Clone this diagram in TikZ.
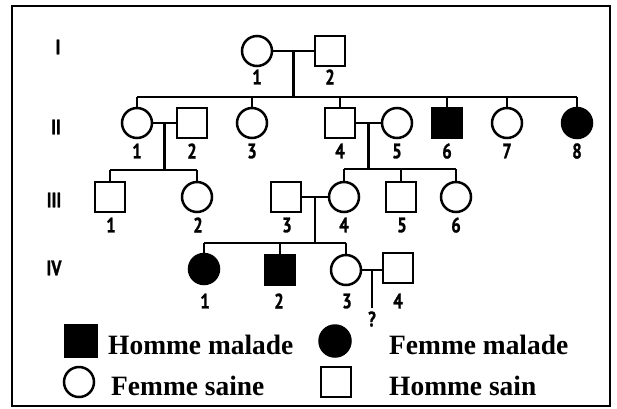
\documentclass[tikz,border=0pt]{standalone}
\usepackage{fontspec}
\usepackage{graphicx}
\usetikzlibrary{calc}
\setmainfont{Liberation Serif}
\newfontfamily\digfont{PT Sans}[BoldFeatures={FakeBold=1.3}]
\newcommand{\dg}[1]{{\digfont\bfseries\fontsize{21}{22}\selectfont\scalebox{0.8}[1]{#1}}}
\newcommand{\legtxt}[1]{{\bfseries\fontsize{28}{30}\selectfont\scalebox{0.98}[1]{#1}}}
\begin{document}
\begin{tikzpicture}[x=1pt,y=-1pt,
  fem/.style={circle,draw,line width=2.5pt,minimum size=30pt,inner sep=0pt},
  mal/.style={rectangle,draw,line width=2.5pt,minimum size=30pt,inner sep=0pt},
  aff/.style={fill=black},
  num/.style={inner sep=0pt,anchor=center},
  link/.style={line width=2.3pt},
  leg/.style={inner sep=0pt,anchor=base west}]
\useasboundingbox (0,0) rectangle (617,408);
\draw[line width=2.2pt] (12,6) rectangle (610,406);

% generation labels
\node[num] (gI) at (58,47) {\dg{I}};
\node[num] (gII) at (56,127) {\dg{II}};
\node[num] (gIII) at (54,200) {\dg{III}};
\node[num] (gIV) at (54,268) {\dg{IV}};

% generation I
\node[fem] (I1) at (257,51) {};
\node[mal] (I2) at (330,51) {};
\node[num] (nI1) at (257,77) {\dg{1}};
\node[num] (nI2) at (330,77) {\dg{2}};

% generation II
\node[fem] (II1) at (137,123) {};
\node[mal] (II2) at (192,123) {};
\node[fem] (II3) at (252,123) {};
\node[mal] (II4) at (340,123) {};
\node[fem] (II5) at (397,123) {};
\node[mal,aff] (II6) at (447,123) {};
\node[fem] (II7) at (507,123) {};
\node[fem,aff] (II8) at (577,123) {};
\foreach \n/\x in {1/137,2/192,3/252,4/340,5/397,6/447,7/507,8/577}
  \node[num] (nII\n) at (\x,151) {\dg{\n}};

% generation III
\node[mal] (III1) at (110,197) {};
\node[fem] (III2) at (197,197) {};
\node[mal] (III3) at (286,197) {};
\node[fem] (III4) at (344,197) {};
\node[mal] (III5) at (401,197) {};
\node[fem] (III6) at (456,197) {};
\foreach \n/\x in {1/111,2/198,3/287,4/344,5/402,6/456}
  \node[num] (nIII\n) at (\x,225) {\dg{\n}};

% generation IV
\node[fem,aff] (IV1) at (204,269) {};
\node[mal,aff] (IV2) at (280,270) {};
\node[fem] (IV3) at (346,270) {};
\node[mal] (IV4) at (398,268) {};
\foreach \n/\x in {1/205,2/279,3/347,4/398}
  \node[num] (nIV\n) at (\x,301) {\dg{\n}};
\node[num] (q) at (372,319) {\dg{?}};

% sibship levels
\coordinate (s1) at (0,97);
\coordinate (s2) at (0,170);
\coordinate (s3) at (0,169);
\coordinate (s4) at (0,243);

% marriages and descents
\draw[link] (I1.east) -- (I2.west);
\coordinate (m1) at ($(I1.east)!0.5!(I2.west)$);
\draw[link] (m1) -- (m1 |- s1);
\draw[link] (II1.north |- s1) -- (II8.north |- s1);
\foreach \c in {II1,II3,II4,II6,II7,II8}
  \draw[link] (\c.north) -- (\c.north |- s1);

\draw[link] (II1.east) -- (II2.west);
\coordinate (m2) at ($(II1.east)!0.5!(II2.west)$);
\draw[link] (m2) -- (m2 |- s2);
\draw[link] (III1.north |- s2) -- (III2.north |- s2);
\foreach \c in {III1,III2}
  \draw[link] (\c.north) -- (\c.north |- s2);

\draw[link] (II4.east) -- (II5.west);
\coordinate (m3) at ($(II4.east)!0.5!(II5.west)$);
\draw[link] (m3) -- (m3 |- s3);
\draw[link] (III4.north |- s3) -- (III6.north |- s3);
\foreach \c in {III4,III5,III6}
  \draw[link] (\c.north) -- (\c.north |- s3);

\draw[link] (III3.east) -- (III4.west);
\coordinate (m4) at ($(III3.east)!0.5!(III4.west)$);
\draw[link] (m4) -- (m4 |- s4);
\draw[link] (IV1.north |- s4) -- (IV3.north |- s4);
\foreach \c in {IV1,IV2,IV3}
  \draw[link] (\c.north) -- (\c.north |- s4);

\draw[link] (IV3.east) -- (IV4.west |- IV3.east);
\coordinate (m5) at ($(IV3.east)!0.5!(IV4.west |- IV3.east)$);
\coordinate (m5e) at (m5 |- 0,308);
\draw[link] (m5) -- (m5e);

% legend
\node[mal,aff,minimum size=31pt] (L1) at (81,341) {};
\node[leg] (T1) at (108,354) {\legtxt{Homme malade}};
\node[fem,aff,minimum size=31pt] (L2) at (335,341) {};
\node[leg] (T2) at (389,354) {\legtxt{Femme malade}};
\node[fem] (L3) at (79,382) {};
\node[leg] (T3) at (111,395) {\legtxt{Femme saine}};
\node[mal,minimum size=30pt] (L4) at (336,382) {};
\node[leg] (T4) at (389,395) {\legtxt{Homme sain}};
\end{tikzpicture}
\end{document}
